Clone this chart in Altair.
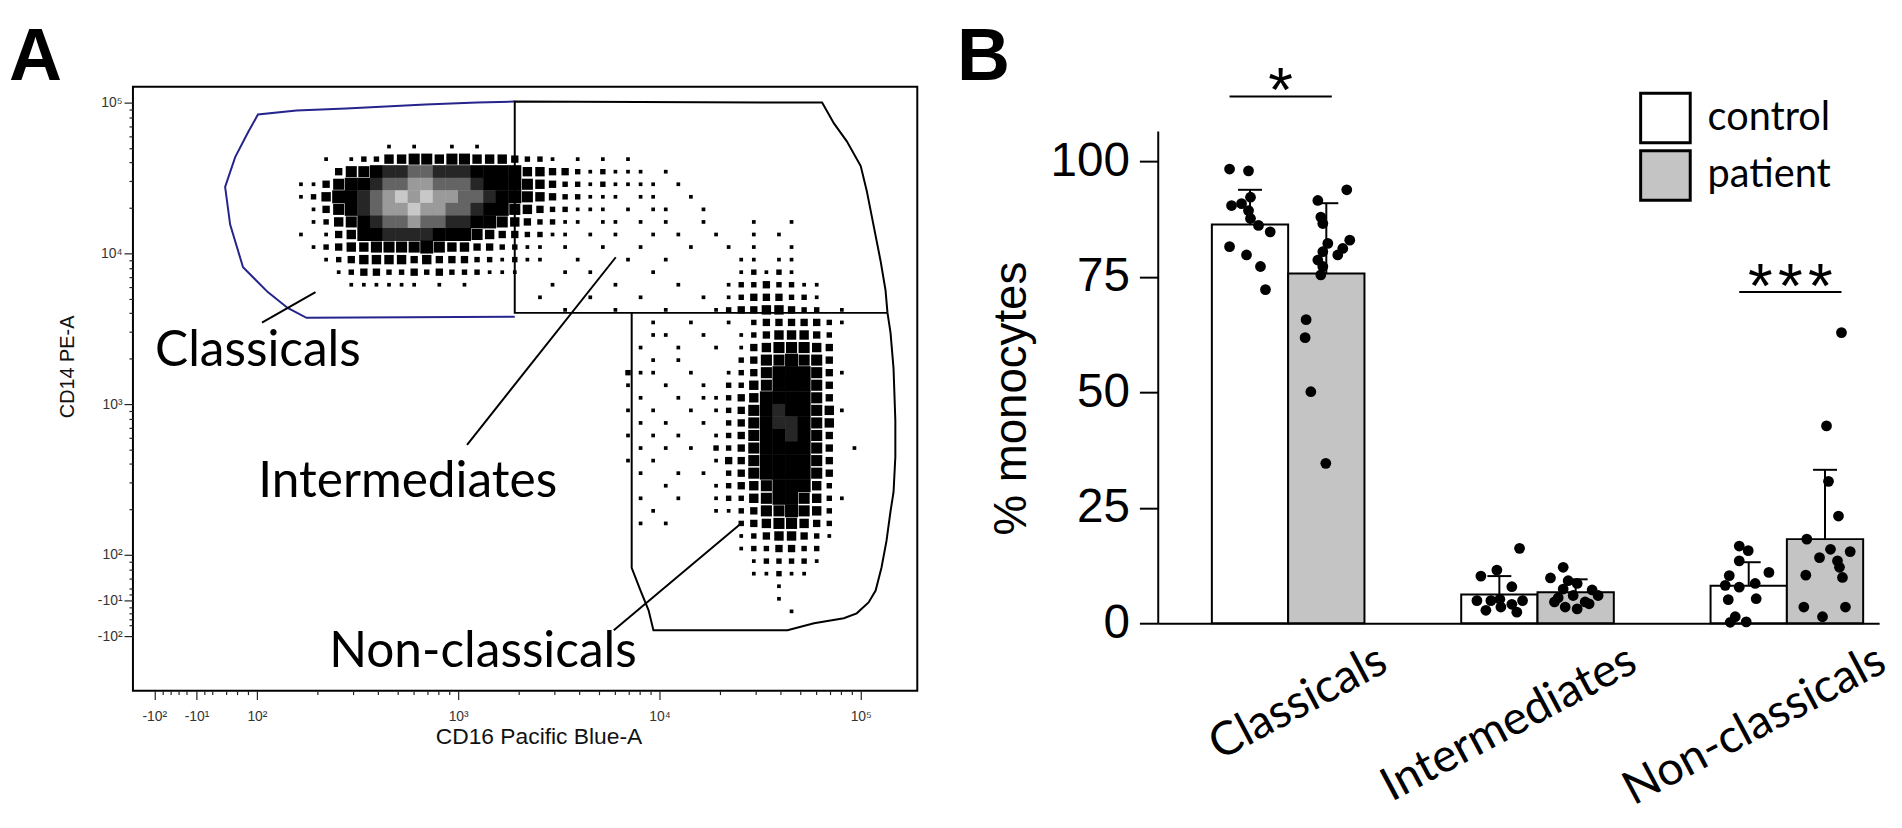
import json
import math
import altair as alt
import pandas as pd

# ======================= Panel A : flow cytometry dot plot =======================
# axis ticks (biexponential display, positions expressed in decades)
A_X_MAJOR = [1.49, 1.70, 2, 3, 4, 5]
A_X_LABELS = ["-10²", "-10¹", "10²", "10³", "10⁴", "10⁵"]
A_Y_MAJOR = [1.46, 1.70, 2, 3, 4, 5]
A_Y_LABELS = ["-10²", "-10¹", "10²", "10³", "10⁴", "10⁵"]
MINOR_MULT = [2, 3, 4, 5, 6, 7, 8, 9]
LOW_DECADE_MULT = [6, 7, 8, 9]
NEAR_ZERO_TICKS = [1.53, 1.57, 1.61, 1.65, 1.74]

# event density: one entry per row of cells (top -> bottom),
# (first column, levels); '.' = no events, 1..6 = increasing density (black),
# 7, 8, 9, w = saturated core shown in grey shades
GRID_X0, GRID_DX = 2.125, 1 / 16
GRID_Y0, GRID_DY = 4.75, 1 / 12
DENSITY_ROWS = [
    (8, "1.1..1.1"),
    (3, "1.12244554554443221.1.1.1"),
    (4, "3556778877766664433212111.1"),
    (1, "11356678899888766654322121111.1"),
    (1, "12466789w9w998876654322111.11..1"),
    (2, "13567899w998876654322111.1.11..1"),
    (2, "1245678898877665432211.11.1.1..1...1..1"),
    (1, "1.13466777766654332211.1.1..1.1..1..1.1"),
    (2, "1234455556544332211.1..1..1...1..1.1..1"),
    (3, "123444434333221211..1...1..1.....11.11"),
    (4, "123322323222111...1.1....1......12121"),
    (5, "111111.1.1......1....1....1...12232211"),
    (20, "1...1...1....1.12333221"),
    (22, "1...1...1...123344322.1"),
    (29, "1..1..1.23333321"),
    (29, "11..1..12344432"),
    (28, "1..1..1.13455543"),
    (29, "1.1....23556553"),
    (27, "211..1..1235666531"),
    (27, "1..1..1.224566653"),
    (28, "1..1.11234666653"),
    (27, "1.1..1.12356766541"),
    (28, "1.1..1.235677654"),
    (27, "1.1.1..1235667653"),
    (28, "1.1.1.2235666653.1"),
    (27, "1.1....1335666653"),
    (28, "1..1.1.235666653"),
    (30, "1...1234566642"),
    (28, "1..1..12245665421"),
    (29, "1....1123556542"),
    (28, "1.1.....23455432"),
    (36, "12344321"),
    (36, "1223322"),
    (37, "122221"),
    (37, "11211"),
    (39, "1"),
    (39, "1"),
    (40, "1"),
]
LEVELS = ["1", "2", "3", "4", "5", "6", "7", "8", "9", "w"]
LEVEL_SIZE = [14, 30, 55, 90, 125, 172, 172, 172, 172, 172]
LEVEL_COLOR = ["#000000", "#000000", "#000000", "#000000", "#000000", "#000000",
               "#262626", "#646464", "#9a9a9a", "#c8c8c8"]

# gates (decades)
CLASS_GATE_X = [3.281, 2.246, 2.153, 2.054, 1.931, 1.867, 1.842, 1.892, 1.956,
                2.005, 2.197, 2.443, 2.837, 3.094, 3.281]
CLASS_GATE_Y = [3.579, 3.572, 3.638, 3.743, 3.908, 4.191, 4.441, 4.638, 4.803,
                4.921, 4.947, 4.961, 4.987, 5.000, 5.007]
INTER_GATE_X = [5.133, 3.281, 3.281, 4.808, 4.867, 4.931, 5.000, 5.030, 5.064,
                5.099, 5.123, 5.133]
INTER_GATE_Y = [3.605, 3.605, 5.007, 5.000, 4.862, 4.743, 4.579, 4.414, 4.184,
                3.947, 3.757, 3.605]
NONC_GATE_X = [3.862, 3.862, 3.906, 3.946, 3.970, 4.276, 4.636, 4.768, 4.916, 4.980,
               5.039, 5.074, 5.103, 5.128, 5.148, 5.163, 5.172, 5.172, 5.163, 5.148, 5.133]
NONC_GATE_Y = [3.605, 1.914, 1.763, 1.632, 1.500, 1.500, 1.500, 1.546, 1.579, 1.612,
               1.684, 1.763, 1.914, 2.092, 2.289, 2.415, 2.651, 2.888, 3.237, 3.474, 3.605]
GATE_NAMES = ["classical", "intermediate", "nonclassical"]
GATE_COLORS = ["#24248c", "#000000", "#000000"]

# population labels and pointer lines
POP_NAMES = ["Classicals", "Intermediates", "Non-classicals"]
POP_LABEL_X = [2.005, 2.749, 3.123]
POP_LABEL_Y = [3.349, 2.480, 1.355]
PTR_X = [2.025, 3.044, 3.773]
PTR_Y = [3.540, 2.730, 1.500]
PTR_X2 = [2.291, 3.783, 4.414]
PTR_Y2 = [3.743, 3.974, 2.217]

# ======================= Panel B : % monocytes bar chart =======================
GROUPS = ["Classicals", "Intermediates", "Non-classicals"]
CONDITIONS = ["control", "patient"]
MEAN_CONTROL = [86.3, 6.2, 8.1]
MEAN_PATIENT = [75.7, 6.7, 18.2]
SD_CONTROL = [7.5, 4.0, 5.1]
SD_PATIENT = [15.2, 2.8, 15.0]

CTRL_CLASS = [98.3, 97.9, 92.2, 90.4, 90.8, 89.3, 87.6, 86.1, 84.7, 81.5, 79.7, 77.2, 72.2]
CTRL_CLASS_DX = [-0.235, -0.159, -0.151, -0.227, -0.187, -0.159, -0.151, -0.119, -0.072,
                 -0.235, -0.167, -0.111, -0.091]
PAT_CLASS = [93.8, 91.5, 87.9, 86.5, 82.9, 82.2, 81.1, 80.4, 79.7, 78.6, 77.2, 75.4,
             65.7, 61.8, 50.1, 34.6]
PAT_CLASS_DX = [0.235, 0.119, 0.131, 0.139, 0.247, 0.159, 0.219, 0.139, 0.199, 0.119,
                0.139, 0.131, 0.072, 0.068, 0.091, 0.151]
CTRL_INT = [16.2, 11.5, 10.2, 7.9, 4.9, 4.9, 4.1, 4.9, 2.8, 2.4, 5.2, 3.5]
CTRL_INT_DX = [-0.072, -0.163, -0.227, -0.103, -0.243, -0.187, -0.103, -0.060, -0.207,
               -0.083, -0.151, -0.147]
PAT_INT = [12.1, 9.8, 9.2, 8.6, 7.4, 7.2, 5.5, 6.0, 6.0, 4.6, 3.5, 3.1, 4.2, 4.6]
PAT_INT_DX = [0.103, 0.052, 0.123, 0.159, 0.103, 0.219, 0.083, 0.143, 0.243, 0.191,
              0.111, 0.159, 0.207, 0.068]
CTRL_NONC = [16.7, 15.7, 13.5, 11.0, 10.3, 8.2, 8.6, 7.8, 5.3, 5.1, 1.4, 0.3, 0.2]
CTRL_NONC_DX = [-0.191, -0.155, -0.191, -0.072, -0.231, -0.247, -0.127, -0.191, -0.123,
                -0.235, -0.207, -0.163, -0.227]
PAT_NONC = [62.9, 42.7, 30.7, 23.2, 18.2, 16.0, 14.2, 15.5, 13.5, 12.1, 10.4, 9.9, 3.5, 3.5, 1.4]
PAT_NONC_DX = [0.219, 0.159, 0.167, 0.207, 0.080, 0.175, 0.131, 0.254, 0.203, 0.211,
               0.076, 0.223, 0.068, 0.235, 0.143]

SIG_TEXT = ["*", "*\u200a*\u200a*"]
SIG_CENTER = [-0.03, 2.014]
SIG_Y = [114.0, 71.7]
B_Y_TICKS = [0, 25, 50, 75, 100]
Y_AXIS_TOP = 106.4

# ----------------------------- styles / layout --------------------------------
A_W, A_H = 791, 609
B_W, B_H = 727, 541
BAR_W = 0.306
CAP_HALF = 0.048
SIG_HALF = 0.205
TOP_PAD = 9

# ----------------------------- build panel A ----------------------------------
size_of = dict(zip(LEVELS, LEVEL_SIZE))
color_of = dict(zip(LEVELS, LEVEL_COLOR))
cells = []
for r, (off, s) in enumerate(DENSITY_ROWS):
    for j, ch in enumerate(s):
        if ch != ".":
            c = off + j
            cells.append({"x": GRID_X0 + (c + 0.5) * GRID_DX,
                          "y": GRID_Y0 - (r + 0.5) * GRID_DY,
                          "sz": size_of[ch], "col": color_of[ch]})
df_cells = pd.DataFrame(cells)

gate_rows = []
for name, xs, ys in zip(GATE_NAMES, [CLASS_GATE_X, INTER_GATE_X, NONC_GATE_X],
                        [CLASS_GATE_Y, INTER_GATE_Y, NONC_GATE_Y]):
    for i, (gx, gy) in enumerate(zip(xs, ys)):
        gate_rows.append({"gate": name, "i": i, "x": gx, "y": gy})
df_gates = pd.DataFrame(gate_rows)

df_ptr = pd.DataFrame({"x": PTR_X, "y": PTR_Y, "x2": PTR_X2, "y2": PTR_Y2})
df_pop = pd.DataFrame({"x": POP_LABEL_X, "y": POP_LABEL_Y, "t": POP_NAMES})


def ticks_expr(major, labels):
    parts = [f"datum.value == {v} ? '{l}'" for v, l in zip(major, labels)]
    return " : ".join(parts) + " : ''"


def minor_ticks():
    vals = [round(d + math.log10(k), 4) for d in (2, 3, 4) for k in MINOR_MULT]
    vals += [round(1 + math.log10(k), 4) for k in LOW_DECADE_MULT]
    return vals + NEAR_ZERO_TICKS


def flow_axis(major, labels, **kw):
    return alt.Axis(
        values=major + minor_ticks(), labelExpr=ticks_expr(major, labels),
        tickSize={"condition": {"test": f"indexof({json.dumps(major)}, datum.value) >= 0",
                                "value": 9}, "value": 4},
        tickColor="#222", tickWidth=1.2, domain=False, grid=False,
        labelFont="Liberation Sans", labelFontSize=14, labelColor="#333",
        labelOverlap=False, labelFlush=False,
        titleFont="Liberation Sans", titleFontWeight="normal",
        titleColor="#111", titleAlign="center", titleBaseline="middle", **kw)


xA_scale = alt.Scale(domain=[1.384, 5.281], nice=False, zero=False)
yA_scale = alt.Scale(domain=[1.099, 5.105], nice=False, zero=False)
xA_axis = flow_axis(A_X_MAJOR, A_X_LABELS, title="CD16 Pacific Blue-A", titleFontSize=23,
                    titleX=409, titleY=46, labelPadding=10)
yA_axis = flow_axis(A_Y_MAJOR, A_Y_LABELS, title="CD14 PE-A", titleFontSize=20,
                    titleX=-66, titleY=282, titleAngle=270, labelPadding=2)
XA = alt.X("x:Q", scale=xA_scale, axis=xA_axis)
YA = alt.Y("y:Q", scale=yA_scale, axis=yA_axis)

dots_a = alt.Chart(df_cells).mark_square(strokeWidth=0, opacity=1).encode(
    x=XA, y=YA,
    size=alt.Size("sz:Q", scale=None),
    color=alt.Color("col:N", scale=None),
)
gates = alt.Chart(df_gates).mark_line(strokeWidth=2).encode(
    x=XA, y=YA, order="i:Q",
    detail="gate:N",
    stroke=alt.Stroke("gate:N", scale=alt.Scale(domain=GATE_NAMES, range=GATE_COLORS),
                      legend=None),
)
pointers = alt.Chart(df_ptr).mark_rule(strokeWidth=2, color="black").encode(
    x=XA, y=YA, x2="x2:Q", y2="y2:Q")
pop_text = alt.Chart(df_pop).mark_text(font="Lato", fontSize=50, color="black",
                                        align="center", baseline="middle").encode(
    x=XA, y=YA, text="t:N")
letter_a = alt.Chart(pd.DataFrame({"t": ["A"]})).mark_text(
    align="left", baseline="top", font="Liberation Sans", fontSize=74,
    fontWeight="bold", color="black").encode(
    text="t:N", x=alt.value(-125), y=alt.value(-74 + TOP_PAD))

panel_a = alt.layer(dots_a, gates, pointers, pop_text, letter_a).properties(
    width=A_W, height=A_H,
    view=alt.ViewBackground(stroke="black", strokeWidth=2, fill="white"))

# ----------------------------- build panel B ----------------------------------
bars = []
for g, name in enumerate(GROUPS):
    for ci, cond in enumerate(CONDITIONS):
        mean = [MEAN_CONTROL, MEAN_PATIENT][ci][g]
        sd = [SD_CONTROL, SD_PATIENT][ci][g]
        x0 = g - BAR_W if ci == 0 else g
        xc = x0 + BAR_W / 2
        bars.append({"group": name, "cond": cond, "x0": x0, "x1": x0 + BAR_W,
                     "xc": xc, "cap0": xc - CAP_HALF, "cap1": xc + CAP_HALF,
                     "base": 0.0, "mean": mean, "top": mean + sd})
df_bars = pd.DataFrame(bars)

dot_sets = [(0, CTRL_CLASS, CTRL_CLASS_DX), (0, PAT_CLASS, PAT_CLASS_DX),
            (1, CTRL_INT, CTRL_INT_DX), (1, PAT_INT, PAT_INT_DX),
            (2, CTRL_NONC, CTRL_NONC_DX), (2, PAT_NONC, PAT_NONC_DX)]
dots = []
for g, vals, dxs in dot_sets:
    for v, dx in zip(vals, dxs):
        dots.append({"x": g + dx, "v": v})
df_dots = pd.DataFrame(dots)

df_sig = pd.DataFrame({"xc": SIG_CENTER, "x0": [c - SIG_HALF for c in SIG_CENTER],
                       "x1": [c + SIG_HALF for c in SIG_CENTER], "y": SIG_Y, "t": SIG_TEXT})

xB_scale = alt.Scale(domain=[-0.521, 2.370], nice=False, zero=False)
yB_scale = alt.Scale(domain=[0, 116.1], nice=False, zero=False)
xB_axis = alt.Axis(values=[0, 1, 2], labelExpr=f"{json.dumps(GROUPS)}[datum.value]",
                   title=None, ticks=False, tickSize=0, domain=True, domainColor="black",
                   domainWidth=2, grid=False, labelAngle=-28, labelAlign="right",
                   labelBaseline="top", labelOffset=85, labelPadding=14,
                   labelFont="Lato", labelFontSize=47, labelColor="black",
                   labelLimit=600, labelOverlap=False, labelFlush=False)
yB_axis = alt.Axis(values=B_Y_TICKS, title="% monocytes", domain=False, ticks=True,
                   tickSize=19, tickWidth=2, tickColor="black", grid=False,
                   labelFont="Liberation Sans", labelFontSize=48, labelColor="black",
                   labelPadding=10, titleFont="Liberation Sans", titleFontSize=46,
                   titleFontWeight="normal", titleColor="black", titleX=-148, titleY=314,
                   titleAngle=270, titleAlign="center", titleBaseline="middle")

bar_layer = alt.Chart(df_bars).mark_rect(stroke="black", strokeWidth=2).encode(
    x=alt.X("x0:Q", scale=xB_scale, axis=xB_axis), x2="x1:Q",
    y=alt.Y("mean:Q", scale=yB_scale, axis=yB_axis), y2="base:Q",
    fill=alt.Fill("cond:N", scale=alt.Scale(domain=CONDITIONS, range=["#ffffff", "#c4c4c4"]),
                  legend=alt.Legend(title=None, orient="none", legendX=1519, legendY=5,
                                    symbolType="square", symbolSize=2500,
                                    symbolStrokeColor="black", symbolStrokeWidth=3,
                                    symbolOpacity=1, labelFont="Lato", labelFontSize=40,
                                    labelColor="black", labelOffset=16, rowPadding=-8,
                                    padding=0)),
)
err_stem = alt.Chart(df_bars).mark_rule(strokeWidth=2, color="black").encode(
    x=alt.X("xc:Q", scale=xB_scale, axis=xB_axis),
    y=alt.Y("mean:Q", scale=yB_scale, axis=yB_axis), y2="top:Q")
err_cap = alt.Chart(df_bars).mark_rule(strokeWidth=2, color="black").encode(
    x=alt.X("cap0:Q", scale=xB_scale, axis=xB_axis), x2="cap1:Q",
    y=alt.Y("top:Q", scale=yB_scale, axis=yB_axis))
dot_layer = alt.Chart(df_dots).mark_circle(size=118, color="black", opacity=1).encode(
    x=alt.X("x:Q", scale=xB_scale, axis=xB_axis),
    y=alt.Y("v:Q", scale=yB_scale, axis=yB_axis))
sig_line = alt.Chart(df_sig).mark_rule(strokeWidth=2, color="black").encode(
    x=alt.X("x0:Q", scale=xB_scale, axis=xB_axis), x2="x1:Q",
    y=alt.Y("y:Q", scale=yB_scale, axis=yB_axis))
sig_text = alt.Chart(df_sig).mark_text(font="Liberation Sans", fontSize=64, color="black",
                                        align="center", baseline="alphabetic", dy=15).encode(
    x=alt.X("xc:Q", scale=xB_scale, axis=xB_axis),
    y=alt.Y("y:Q", scale=yB_scale, axis=yB_axis), text="t:N")
y_line = alt.Chart(pd.DataFrame({"y0": [0.0], "y1": [Y_AXIS_TOP]})).mark_rule(
    strokeWidth=2, color="black").encode(
    x=alt.value(0), y=alt.Y("y0:Q", scale=yB_scale, axis=yB_axis), y2="y1:Q")
letter_b = alt.Chart(pd.DataFrame({"t": ["B"]})).mark_text(
    align="left", baseline="top", font="Liberation Sans", fontSize=74,
    fontWeight="bold", color="black").encode(
    text="t:N", x=alt.value(-203), y=alt.value(-74 + TOP_PAD))

panel_b = alt.layer(bar_layer, err_stem, err_cap, dot_layer, sig_line, sig_text,
                    y_line, letter_b).properties(width=B_W, height=B_H)

chart = alt.hconcat(panel_a, panel_b, spacing=243, bounds="flush").properties(
    padding={"left": 0, "top": TOP_PAD, "right": 0, "bottom": 0}, background="white"
).configure_view(stroke="transparent")

chart.save("out.html", embed_options={"renderer": "svg", "actions": False})
